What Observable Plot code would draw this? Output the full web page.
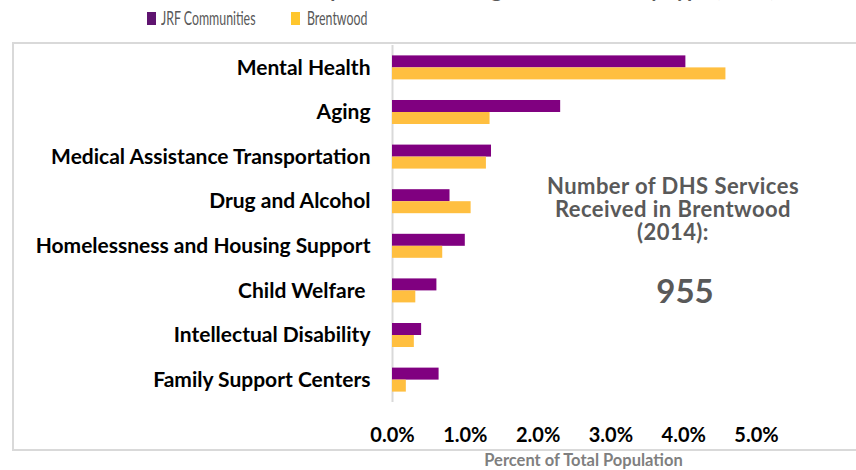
<!DOCTYPE html>
<html><head><meta charset="utf-8">
<script src="https://cdn.jsdelivr.net/npm/d3@7"></script>
<script src="https://cdn.jsdelivr.net/npm/@observablehq/plot@0.6"></script>
<style>
body{margin:0;background:#fff;font-family:Lato,"Open Sans",sans-serif;}
#wrap{position:relative;width:856px;height:470px;overflow:hidden;background:#fff;}
#title{position:absolute;top:-21px;left:0;width:980px;text-align:center;font-size:21px;line-height:20px;font-weight:bold;color:#595959;white-space:nowrap;}
#legend{position:relative;height:40px;}
.sw{position:absolute;width:9px;height:13px;top:12px;}
.lt{position:absolute;top:7px;font-size:19px;line-height:22px;color:#595959;transform-origin:0 50%;transform:scaleX(0.65);white-space:nowrap;}
#chart{position:relative;}
#box{position:absolute;left:12px;top:42px;width:900px;height:405px;border:2px solid #d9d9d9;pointer-events:none;}
#note{position:absolute;left:510px;width:326px;top:174px;text-align:center;color:#595959;font-weight:bold;font-size:22px;line-height:23px;letter-spacing:0.45px;}
#num{position:absolute;left:542px;width:286px;top:270px;text-align:center;color:#595959;font-weight:bold;font-size:33px;line-height:40px;}
</style></head>
<body>
<div id="wrap">
  <div id="title">Percent of Population Receiving DHS Services by Type (2014)</div>
  <div id="legend">
    <div class="sw" style="left:147px;background:#5f1470"></div>
    <div class="lt" style="left:161px">JRF Communities</div>
    <div class="sw" style="left:291px;background:#ffc62d"></div>
    <div class="lt" style="left:307px">Brentwood</div>
  </div>
  <div id="chart"></div>
  <div id="box"></div>
  <div id="note">Number of DHS Services<br>Received in Brentwood<br>(2014):</div>
  <div id="num">955</div>
</div>
<script>
const categories = ["Mental Health", "Aging", "Medical Assistance Transportation", "Drug and Alcohol",
  "Homelessness and Housing Support", "Child Welfare ", "Intellectual Disability", "Family Support Centers"];
const jrf = [4.03, 2.31, 1.36, 0.79, 1.00, 0.61, 0.40, 0.64];
const brentwood = [4.58, 1.34, 1.29, 1.08, 0.69, 0.32, 0.30, 0.19];
const xTicks = [0, 1, 2, 3, 4, 5];
const axisTitle = "Percent of Total Population";

const rows = categories.map((c, i) => ({category: c, jrf: jrf[i], brentwood: brentwood[i]}));

const chart = Plot.plot({
  width: 856, height: 430,
  marginTop: 5, marginBottom: 68, marginLeft: 392, marginRight: 100,
  style: {background: "transparent", fontFamily: "Lato, 'Open Sans', sans-serif", overflow: "visible"},
  x: {domain: [0, 5]},
  y: {domain: categories, paddingInner: 0.462, paddingOuter: 0.233, round: false},
  marks: [
    Plot.ruleX([0], {stroke: "#d9d9d9", strokeWidth: 2}),
    Plot.barX(rows, {y: "category", x: "jrf", fill: "#800080", insetBottom: 12}),
    Plot.barX(rows, {y: "category", x: "brentwood", fill: "#ffbf40", insetTop: 12}),
    Plot.axisX({ticks: xTicks, tickFormat: d => d.toFixed(1) + "%", tickSize: 0, tickPadding: 25,
      fontSize: 20, fontWeight: "bold", fill: "#000", label: null}),
    Plot.axisY({tickSize: 0, tickPadding: 22, fontSize: 21, fontWeight: "bold", fill: "#000", label: null}),
    Plot.text([axisTitle], {frameAnchor: "bottom", lineAnchor: "middle", dy: 58, dx: 9,
      fontSize: 16.5, fontWeight: "bold", fill: "#7f7f7f"})
  ]
});
document.getElementById("chart").appendChild(chart);
</script>
</body></html>
